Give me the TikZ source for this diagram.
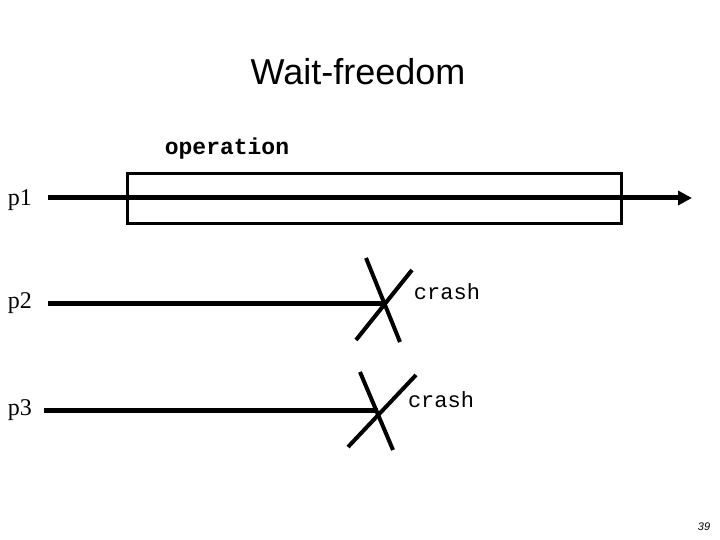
\documentclass[tikz,border=0pt]{standalone}
\usepackage{fontspec}
\newfontfamily\sansf{Liberation Sans}
\newfontfamily\monof{Liberation Mono}
\newfontfamily\seriff{Liberation Serif}
\usetikzlibrary{arrows.meta}
\begin{document}
\begin{tikzpicture}[x=1pt,y=-1pt,
  line/.style={line width=5pt},
  cross/.style={line width=4pt},
  mono/.style={font=\monof\fontsize{22}{24}\selectfont},
  lab/.style={font=\seriff\fontsize{24}{26}\selectfont}]
\useasboundingbox (0,0) rectangle (720,540);
\node[font=\sansf\fontsize{36}{40}\selectfont] (title) at (358,72) {Wait-freedom};
\node[mono,font=\monof\bfseries\fontsize{23}{25}\selectfont] (op) at (227,149) {operation};
\node[lab] (p1) at (20,200) {p1};
\node[lab] (p2) at (20,303) {p2};
\node[lab] (p3) at (20,410) {p3};
\draw[line width=3pt] (127,174) rectangle (621,224);
\coordinate (e1) at (692,198);
\draw[line,-{Triangle[length=14pt,width=14pt]}] (48,198) -- (e1);
\coordinate (c2) at (385,303);
\draw[line] (48,303) -- (c2);
\draw[cross] (366,258) -- (400,342);
\draw[cross] (412,270) -- (356,340);
\coordinate (c3) at (378,410);
\draw[line] (44,410) -- (c3);
\draw[cross] (360,372) -- (393,450);
\draw[cross] (416,375) -- (348,447);
\node[mono] (cr2) at (447,292) {crash};
\node[mono] (cr3) at (441,400) {crash};
\node[font=\sansf\itshape\fontsize{11}{12}\selectfont] (pg) at (704,527) {39};
\end{tikzpicture}
\end{document}
